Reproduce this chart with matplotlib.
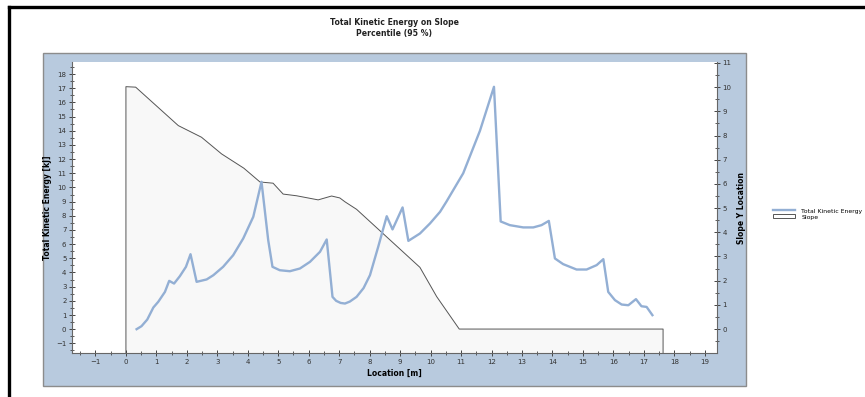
import matplotlib
matplotlib.use("Agg")
import matplotlib.pyplot as plt
from matplotlib.lines import Line2D
from matplotlib.patches import Rectangle, Patch
from matplotlib.ticker import MultipleLocator

# Kinetic energy along the slope (location in m, energy in kJ)
energy_x = [0.35, 0.51, 0.70, 0.90, 1.06, 1.28, 1.42, 1.58, 1.77, 1.97, 2.12,
            2.32, 2.65, 2.87, 3.19, 3.52, 3.85, 4.18, 4.45,
            4.67, 4.81, 5.05, 5.38, 5.71, 6.04, 6.37, 6.59,
            6.78, 6.90, 7.05, 7.19, 7.35, 7.57, 7.80, 8.01, 8.28, 8.56,
            8.75, 9.08, 9.27, 9.65, 9.98, 10.31, 10.52, 11.07, 11.62, 12.08,
            12.30, 12.60, 13.04, 13.37, 13.64, 13.88,
            14.08, 14.35, 14.79, 15.12, 15.45, 15.67,
            15.83, 16.05, 16.27, 16.49, 16.74, 16.92, 17.09, 17.28]
energy_y = [0.0, 0.21, 0.68, 1.53, 1.93, 2.63, 3.41, 3.22, 3.74, 4.40, 5.29,
            3.34, 3.51, 3.81, 4.40, 5.22, 6.40, 7.93, 10.40,
            6.28, 4.40, 4.16, 4.09, 4.28, 4.75, 5.46, 6.33,
            2.28, 2.00, 1.85, 1.81, 1.95, 2.28, 2.90, 3.81, 5.81, 7.97,
            7.04, 8.59, 6.23, 6.75, 7.46, 8.28, 9.00, 11.00, 14.00, 17.10,
            7.60, 7.34, 7.18, 7.18, 7.34, 7.64,
            4.99, 4.59, 4.21, 4.21, 4.52, 4.94,
            2.63, 2.05, 1.74, 1.69, 2.12, 1.62, 1.57, 0.99]

# Slope profile (location in m, slope Y location); None = closed to plot bottom
slope_x = [0.0, 0.0, 0.32, 1.72, 2.48, 3.14, 3.87, 4.40, 4.83, 5.16, 5.60,
           6.31, 6.75, 7.02, 7.19, 7.57, 9.65, 10.20, 10.94, 17.63, 17.63]
slope_y = [None, 10.02, 10.0, 8.41, 7.93, 7.24, 6.65, 6.08, 6.03, 5.58, 5.51,
           5.34, 5.50, 5.42, 5.26, 4.95, 2.55, 1.34, 0.0, 0.0, None]

x_ticks = list(range(-1, 20))
energy_ticks = list(range(-1, 19))
slope_ticks = list(range(0, 12))

title = "Total Kinetic Energy on Slope\nPercentile (95 %)"
energy_label = "Total Kinetic Energy [kJ]"
slope_label = "Slope Y Location"
x_label = "Location [m]"

W, H = 865, 397
fig = plt.figure(figsize=(W / 100, H / 100), dpi=100)
fig.patch.set_facecolor("white")

def fx(px):
    return px / W

def fy(py):
    return 1 - py / H

# outer frame lines (top and left)
fig.add_artist(Line2D([fx(9), 1.0], [fy(6.5), fy(6.5)], color="black", lw=2.4,
                      transform=fig.transFigure))
fig.add_artist(Line2D([fx(9), fx(9)], [fy(6.5), 0.0], color="black", lw=2.4,
                      transform=fig.transFigure))

# blue chart panel
fig.add_artist(Rectangle((fx(43), fy(386)), fx(746) - fx(43), fy(53) - fy(386),
                         transform=fig.transFigure, facecolor="#b8cade",
                         edgecolor="#8c8c8c", lw=1.0, zorder=0))

ax = fig.add_axes([fx(72), fy(353), fx(717) - fx(72), fy(62) - fy(353)])
ax2 = ax.twinx()

x_lo, x_hi = -1.77, 19.4
e_lo, e_hi = -1.68, 18.85
s_lo, s_hi = -0.99, 11.04

# slope polygon, closed down to the bottom of the plot
sy = [s_lo if v is None else v for v in slope_y]
ax2.fill(slope_x, sy, facecolor="#f8f8f8", edgecolor="none", zorder=1)
ax2.plot(slope_x, sy, color="#555555", lw=0.7, zorder=2)
ax2.set_ylim(s_lo, s_hi)

ax.plot(energy_x, energy_y, color="#93afd4", lw=1.7, zorder=3)
ax.set_xlim(x_lo, x_hi)
ax.set_ylim(e_lo, e_hi)

ax.set_zorder(ax2.get_zorder() + 1)
ax.patch.set_visible(False)
ax2.patch.set_visible(True)
ax2.patch.set_facecolor("white")

tick_color = "#444444"
for a in (ax, ax2):
    for s in a.spines.values():
        s.set_visible(False)
ax.spines["left"].set_visible(True)
ax.spines["bottom"].set_visible(True)
ax2.spines["right"].set_visible(True)
for s in (ax.spines["left"], ax.spines["bottom"], ax2.spines["right"]):
    s.set_color("#666666")
    s.set_linewidth(0.8)

ax.set_xticks(x_ticks)
ax.set_yticks(energy_ticks)
ax2.set_yticks(slope_ticks)
ax.xaxis.set_minor_locator(MultipleLocator(0.5))
ax.yaxis.set_minor_locator(MultipleLocator(0.5))
ax2.yaxis.set_minor_locator(MultipleLocator(0.5))

ax.tick_params(axis="both", which="major", direction="inout", length=5,
               width=0.7, color=tick_color, labelsize=5, labelcolor="#333333",
               pad=1.5)
ax.tick_params(axis="both", which="minor", direction="inout", length=3,
               width=0.6, color=tick_color)
ax2.tick_params(axis="y", which="major", direction="inout", length=5,
                width=0.7, color=tick_color, labelsize=5, labelcolor="#333333",
                pad=1.5)
ax2.tick_params(axis="y", which="minor", direction="inout", length=3,
                width=0.6, color=tick_color)

ax.set_xlabel(x_label, fontsize=5.5, fontweight="bold", labelpad=3)
ax.set_ylabel(energy_label, fontsize=5.5, fontweight="bold", labelpad=3)
ax2.set_ylabel(slope_label, fontsize=5.5, fontweight="bold", labelpad=4)

fig.text(fx(394.5), fy(28), title, ha="center", va="center", fontsize=5.6,
         fontweight="bold", color="#222222", linespacing=1.15)

handles = [Line2D([0], [0], color="#93afd4", lw=1.7),
           Patch(facecolor="white", edgecolor="#555555", lw=0.7)]
fig.legend(handles, ["Total Kinetic Energy", "Slope"],
           loc="center left", bbox_to_anchor=(fx(770), fy(214)),
           fontsize=4.4, frameon=False, handlelength=3.6, handleheight=0.6,
           handletextpad=1.0, labelspacing=0.15, borderpad=0)

fig.savefig("out.png", dpi=100)
